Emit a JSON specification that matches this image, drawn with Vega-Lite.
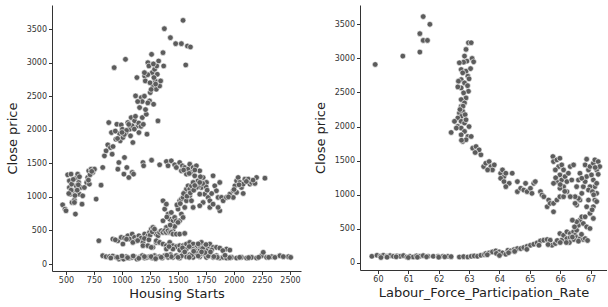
{
  "$schema": "https://vega.github.io/schema/vega-lite/v6.json",
  "padding": {"left": 6, "top": 5, "right": 0, "bottom": 0},
  "background": "white",
  "spacing": 59,
  "bounds": "flush",
  "config": {
    "view": {"stroke": null},
    "font": "DejaVu Sans",
    "axis": {
      "grid": false,
      "format": "d",
      "labelFont": "DejaVu Sans",
      "labelFontSize": 8,
      "labelColor": "#333333",
      "titleFont": "DejaVu Sans",
      "titleFontSize": 13,
      "titleFontWeight": "normal",
      "titleColor": "#222222",
      "domainColor": "#333333",
      "tickColor": "#333333",
      "tickSize": 3.5,
      "labelPadding": 2,
      "domainWidth": 1,
      "tickWidth": 1
    },
    "axisY": {"titlePadding": 7},
    "axisX": {"titlePadding": 3}
  },
  "datasets": {
    "left": [
      {"starts":470,"close":882},{"starts":491,"close":818},{"starts":500,"close":793},{"starts":515,"close":1329},{"starts":530,"close":1239},{"starts":545,"close":1339},{"starts":539,"close":1041},{"starts":554,"close":917},{"starts":575,"close":952},{"starts":584,"close":744},{"starts":590,"close":1165},{"starts":596,"close":1289},{"starts":613,"close":1215},{"starts":619,"close":1041},{"starts":634,"close":1140},{"starts":575,"close":917},{"starts":560,"close":1091},{"starts":530,"close":1140},{"starts":604,"close":1339},{"starts":643,"close":892},{"starts":649,"close":1016},{"starts":664,"close":1140},{"starts":685,"close":1215},{"starts":694,"close":1289},{"starts":703,"close":1388},{"starts":724,"close":1413},{"starts":739,"close":1364},{"starts":754,"close":1413},{"starts":709,"close":1190},{"starts":769,"close":967},{"starts":550,"close":1190},{"starts":565,"close":1260},{"starts":580,"close":1020},{"starts":600,"close":1100},{"starts":620,"close":1300},{"starts":545,"close":1100},{"starts":525,"close":1050},{"starts":610,"close":1180},{"starts":700,"close":1250},{"starts":715,"close":1330},{"starts":730,"close":1380},
      {"starts":813,"close":1175},{"starts":828,"close":1438},{"starts":843,"close":1611},{"starts":858,"close":1686},{"starts":873,"close":1775},{"starts":882,"close":2107},{"starts":897,"close":1735},{"starts":912,"close":1636},{"starts":906,"close":1958},{"starts":930,"close":2925},{"starts":945,"close":1859},{"starts":954,"close":2082},{"starts":963,"close":1413},{"starts":972,"close":1512},{"starts":978,"close":1944},{"starts":984,"close":1835},{"starts":993,"close":2072},{"starts":1003,"close":2008},{"starts":1008,"close":1884},{"starts":1017,"close":1339},{"starts":1022,"close":1587},{"starts":1031,"close":3049},{"starts":1037,"close":1958},{"starts":1043,"close":1438},{"starts":1052,"close":2107},{"starts":1061,"close":1289},{"starts":1067,"close":2008},{"starts":1076,"close":1909},{"starts":1082,"close":2181},{"starts":1091,"close":1364},{"starts":1103,"close":1339},{"starts":1112,"close":2132},{"starts":1097,"close":1810},{"starts":1121,"close":2504},{"starts":1133,"close":2777},{"starts":1142,"close":2057},{"starts":1151,"close":1958},{"starts":1157,"close":2330},{"starts":1163,"close":2429},{"starts":1172,"close":2479},{"starts":1181,"close":2181},{"starts":1187,"close":1512},{"starts":1193,"close":1463},{"starts":1202,"close":2801},{"starts":1208,"close":2727},{"starts":1217,"close":2231},{"starts":1223,"close":1934},{"starts":1231,"close":2999},{"starts":1240,"close":2950},{"starts":1246,"close":2429},{"starts":1252,"close":2553},{"starts":1264,"close":3123},{"starts":1270,"close":2851},{"starts":1276,"close":2652},{"starts":1282,"close":2380},{"starts":1291,"close":2900},{"starts":1297,"close":2727},{"starts":1306,"close":2603},{"starts":1315,"close":2826},{"starts":1321,"close":2132},{"starts":1327,"close":3024},{"starts":1336,"close":2652},{"starts":1345,"close":2727},{"starts":1366,"close":3148},{"starts":1372,"close":2950},{"starts":1378,"close":3505},{"starts":1432,"close":3371},{"starts":1479,"close":3282},{"starts":1530,"close":3282},{"starts":1545,"close":3629},{"starts":1569,"close":2965},{"starts":1584,"close":3247},{"starts":1611,"close":3233},{"starts":1285,"close":2777},{"starts":1260,"close":2600},{"starts":1230,"close":2400},{"starts":1200,"close":2500},{"starts":1180,"close":2420},{"starts":1140,"close":2420},{"starts":1120,"close":2200},{"starts":1090,"close":2060},{"starts":1060,"close":2080},{"starts":1040,"close":1990},{"starts":1020,"close":1930},{"starts":1000,"close":1960},{"starts":960,"close":1870},{"starts":940,"close":1980},{"starts":920,"close":1750},{"starts":1110,"close":2010},{"starts":1150,"close":2100},{"starts":1170,"close":2050},{"starts":1190,"close":2080},{"starts":1210,"close":2300},{"starts":1250,"close":2700},{"starts":1300,"close":2680},{"starts":1310,"close":2950},{"starts":1280,"close":2980},{"starts":1230,"close":2820},{"starts":1200,"close":2850},
      {"starts":1264,"close":1547},{"starts":1336,"close":1478},{"starts":1396,"close":1527},{"starts":1411,"close":1463},{"starts":1440,"close":1537},{"starts":1470,"close":1478},{"starts":1485,"close":1438},{"starts":1515,"close":1512},{"starts":1530,"close":1388},{"starts":1539,"close":1463},{"starts":1560,"close":1438},{"starts":1575,"close":1339},{"starts":1590,"close":1413},{"starts":1605,"close":1487},{"starts":1620,"close":1364},{"starts":1635,"close":1438},{"starts":1649,"close":1314},{"starts":1664,"close":1463},{"starts":1679,"close":1239},{"starts":1694,"close":1388},{"starts":1709,"close":1140},{"starts":1724,"close":1289},{"starts":1739,"close":1041},{"starts":1754,"close":1215},{"starts":1769,"close":992},{"starts":1784,"close":942},{"starts":1813,"close":1314},{"starts":1828,"close":1165},{"starts":1843,"close":1091},{"starts":1858,"close":992},{"starts":1873,"close":1215},{"starts":1888,"close":992},{"starts":1903,"close":942},{"starts":1784,"close":843},{"starts":1813,"close":892},{"starts":1694,"close":1041},{"starts":1724,"close":917},{"starts":1635,"close":843},{"starts":1694,"close":868},{"starts":1873,"close":793},{"starts":1858,"close":843},{"starts":1550,"close":1400},{"starts":1600,"close":1350},{"starts":1650,"close":1400},{"starts":1700,"close":1300},{"starts":1750,"close":1150},{"starts":1800,"close":1050},{"starts":1720,"close":1200},{"starts":1680,"close":1150},{"starts":1760,"close":1100},
      {"starts":1933,"close":992},{"starts":1963,"close":1041},{"starts":1993,"close":1091},{"starts":2008,"close":1165},{"starts":2023,"close":1239},{"starts":2037,"close":1289},{"starts":2052,"close":1215},{"starts":2067,"close":1140},{"starts":2082,"close":1190},{"starts":2097,"close":1264},{"starts":2127,"close":1264},{"starts":2142,"close":1190},{"starts":2157,"close":1215},{"starts":2187,"close":1200},{"starts":2201,"close":1289},{"starts":2276,"close":1279},{"starts":1993,"close":992},{"starts":2023,"close":1066},{"starts":2082,"close":1051},{"starts":1950,"close":1000},{"starts":2000,"close":1110},{"starts":2045,"close":1180},{"starts":2110,"close":1230},{"starts":2170,"close":1250},
      {"starts":1366,"close":942},{"starts":1381,"close":818},{"starts":1396,"close":892},{"starts":1411,"close":744},{"starts":1426,"close":669},{"starts":1440,"close":768},{"starts":1455,"close":644},{"starts":1470,"close":694},{"starts":1485,"close":644},{"starts":1500,"close":818},{"starts":1515,"close":942},{"starts":1530,"close":967},{"starts":1545,"close":992},{"starts":1560,"close":1066},{"starts":1575,"close":1116},{"starts":1590,"close":1165},{"starts":1605,"close":1116},{"starts":1620,"close":1165},{"starts":1635,"close":1215},{"starts":1664,"close":1140},{"starts":1694,"close":1215},{"starts":1455,"close":496},{"starts":1426,"close":496},{"starts":1515,"close":644},{"starts":1530,"close":744},{"starts":1560,"close":843},{"starts":1575,"close":942},{"starts":1605,"close":1016},{"starts":1366,"close":644},{"starts":1396,"close":545},{"starts":1545,"close":694},{"starts":1620,"close":942},{"starts":1490,"close":880},{"starts":1520,"close":900},{"starts":1550,"close":1050},{"starts":1580,"close":1010},{"starts":1610,"close":1060},{"starts":1640,"close":1100},{"starts":1650,"close":1170},{"starts":1470,"close":560},{"starts":1500,"close":620},{"starts":1430,"close":580},{"starts":1400,"close":700},
      {"starts":793,"close":347},{"starts":918,"close":372},{"starts":963,"close":347},{"starts":993,"close":397},{"starts":1022,"close":387},{"starts":1052,"close":421},{"starts":1067,"close":372},{"starts":1091,"close":446},{"starts":1112,"close":397},{"starts":1127,"close":347},{"starts":1151,"close":421},{"starts":1172,"close":387},{"starts":1187,"close":322},{"starts":1202,"close":446},{"starts":1217,"close":387},{"starts":1231,"close":421},{"starts":1246,"close":471},{"starts":1261,"close":521},{"starts":1276,"close":545},{"starts":1291,"close":496},{"starts":1306,"close":446},{"starts":1321,"close":421},{"starts":1336,"close":471},{"starts":1351,"close":496},{"starts":1366,"close":471},{"starts":1381,"close":496},{"starts":1396,"close":471},{"starts":1411,"close":496},{"starts":1426,"close":471},{"starts":1440,"close":471},{"starts":1455,"close":446},{"starts":1485,"close":446},{"starts":1515,"close":446},{"starts":1560,"close":456},{"starts":1008,"close":298},{"starts":1097,"close":322},{"starts":1187,"close":273},{"starts":1276,"close":248},{"starts":1306,"close":322},{"starts":1231,"close":273},{"starts":1261,"close":248},{"starts":940,"close":360},{"starts":1040,"close":370},{"starts":1140,"close":350},{"starts":1200,"close":380},{"starts":1250,"close":430},{"starts":1270,"close":480},{"starts":1290,"close":520},{"starts":1240,"close":360},
      {"starts":1306,"close":347},{"starts":1336,"close":322},{"starts":1366,"close":298},{"starts":1396,"close":273},{"starts":1426,"close":322},{"starts":1455,"close":273},{"starts":1485,"close":258},{"starts":1515,"close":273},{"starts":1545,"close":273},{"starts":1575,"close":298},{"starts":1605,"close":322},{"starts":1635,"close":298},{"starts":1664,"close":248},{"starts":1694,"close":273},{"starts":1709,"close":322},{"starts":1739,"close":273},{"starts":1769,"close":248},{"starts":1784,"close":298},{"starts":1813,"close":248},{"starts":1843,"close":248},{"starts":1873,"close":238},{"starts":1933,"close":223},{"starts":1963,"close":208},{"starts":1396,"close":223},{"starts":1455,"close":223},{"starts":1635,"close":223},{"starts":1694,"close":198},{"starts":1754,"close":198},{"starts":1575,"close":223},{"starts":1515,"close":208},{"starts":1600,"close":260},{"starts":1650,"close":200},{"starts":1720,"close":230},{"starts":1800,"close":210},{"starts":1900,"close":200},{"starts":1420,"close":260},{"starts":1540,"close":240},{"starts":1680,"close":300},{"starts":1750,"close":290},
      {"starts":828,"close":124},{"starts":858,"close":109},{"starts":888,"close":109},{"starts":918,"close":119},{"starts":948,"close":99},{"starts":972,"close":74},{"starts":993,"close":99},{"starts":1014,"close":74},{"starts":1037,"close":109},{"starts":1067,"close":89},{"starts":1091,"close":99},{"starts":1112,"close":109},{"starts":1133,"close":74},{"starts":1157,"close":99},{"starts":1181,"close":124},{"starts":1202,"close":89},{"starts":1223,"close":99},{"starts":1246,"close":109},{"starts":1270,"close":89},{"starts":1291,"close":124},{"starts":1312,"close":99},{"starts":1336,"close":109},{"starts":1360,"close":89},{"starts":1381,"close":124},{"starts":1411,"close":99},{"starts":1432,"close":139},{"starts":1455,"close":99},{"starts":1485,"close":124},{"starts":1515,"close":89},{"starts":1545,"close":149},{"starts":1575,"close":109},{"starts":1605,"close":139},{"starts":1635,"close":99},{"starts":1664,"close":159},{"starts":1694,"close":109},{"starts":1724,"close":149},{"starts":1754,"close":99},{"starts":1784,"close":139},{"starts":1813,"close":99},{"starts":1843,"close":124},{"starts":1873,"close":89},{"starts":1903,"close":99},{"starts":1933,"close":89},{"starts":1978,"close":99},{"starts":2023,"close":89},{"starts":2067,"close":99},{"starts":2112,"close":89},{"starts":2157,"close":99},{"starts":2201,"close":89},{"starts":2246,"close":124},{"starts":2261,"close":174},{"starts":2291,"close":99},{"starts":2336,"close":109},{"starts":2366,"close":99},{"starts":2410,"close":124},{"starts":2485,"close":109},{"starts":2506,"close":99},{"starts":900,"close":90},{"starts":960,"close":100},{"starts":1050,"close":95},{"starts":1150,"close":85},{"starts":1260,"close":110},{"starts":1350,"close":100},{"starts":1440,"close":110},{"starts":1530,"close":120},{"starts":1620,"close":130},{"starts":1700,"close":150},{"starts":1770,"close":120},{"starts":1850,"close":100},{"starts":1960,"close":95},{"starts":2050,"close":100},{"starts":2130,"close":95},{"starts":2220,"close":100},{"starts":2310,"close":100},{"starts":2440,"close":110},{"starts":1000,"close":120},{"starts":1100,"close":120},{"starts":1200,"close":110},{"starts":1300,"close":80},{"starts":1400,"close":130},{"starts":1500,"close":100},{"starts":1600,"close":100},{"starts":1680,"close":120},{"starts":1740,"close":170},{"starts":1820,"close":110},{"starts":1920,"close":130},{"starts":1560,"close":180},{"starts":1640,"close":190},{"starts":1710,"close":180},{"starts":1790,"close":180}
    ],
    "right": [
      {"rate":59.91,"close":2911},{"rate":60.82,"close":3034},{"rate":61.38,"close":3093},{"rate":61.38,"close":3363},{"rate":61.49,"close":3613},{"rate":61.49,"close":3264},{"rate":61.63,"close":3264},{"rate":61.71,"close":3500},
      {"rate":62.98,"close":3230},{"rate":63.07,"close":3230},{"rate":62.90,"close":3132},{"rate":62.85,"close":3034},{"rate":62.93,"close":2960},{"rate":62.82,"close":2945},{"rate":62.68,"close":2936},{"rate":62.74,"close":2837},{"rate":62.90,"close":2813},{"rate":62.79,"close":2788},{"rate":62.96,"close":2739},{"rate":62.74,"close":2690},{"rate":62.65,"close":2666},{"rate":62.85,"close":2641},{"rate":62.98,"close":2518},{"rate":62.74,"close":2567},{"rate":62.63,"close":2582},{"rate":62.82,"close":2494},{"rate":62.90,"close":2420},{"rate":62.74,"close":2396},{"rate":62.85,"close":2347},{"rate":62.74,"close":2297},{"rate":62.79,"close":2224},{"rate":62.68,"close":2199},{"rate":62.74,"close":2150},{"rate":62.87,"close":2175},{"rate":62.63,"close":2126},{"rate":62.52,"close":2077},{"rate":62.74,"close":2077},{"rate":62.85,"close":2052},{"rate":62.63,"close":2003},{"rate":62.74,"close":1978},{"rate":62.58,"close":1978},{"rate":62.85,"close":1929},{"rate":62.41,"close":1914},{"rate":62.74,"close":1880},{"rate":62.96,"close":1855},{"rate":62.79,"close":1782},{"rate":62.90,"close":1807},{"rate":63.07,"close":1855},{"rate":63.12,"close":1684},{"rate":63.23,"close":1708},{"rate":63.28,"close":1635},{"rate":63.39,"close":1586},{"rate":63.33,"close":1659},{"rate":63.48,"close":1414},{"rate":63.55,"close":1463},{"rate":63.66,"close":1487},{"rate":63.72,"close":1414},{"rate":63.77,"close":1365},{"rate":63.83,"close":1438},{"rate":63.61,"close":1365},{"rate":64.04,"close":1316},{"rate":64.10,"close":1365},{"rate":64.15,"close":1267},{"rate":64.21,"close":1316},{"rate":64.04,"close":1242},{"rate":64.15,"close":1193},{"rate":64.32,"close":1168},{"rate":64.21,"close":1119},{"rate":64.42,"close":1316},{"rate":64.59,"close":1193},{"rate":64.59,"close":1046},{"rate":64.70,"close":1095},{"rate":64.80,"close":1070},{"rate":64.86,"close":1168},{"rate":64.91,"close":1046},{"rate":65.02,"close":1095},{"rate":65.13,"close":1168},{"rate":65.18,"close":1193},{"rate":65.07,"close":1021},{"rate":65.35,"close":1046},{"rate":65.40,"close":997},{"rate":65.46,"close":972},{"rate":65.57,"close":825},{"rate":65.62,"close":923},{"rate":65.67,"close":874},{"rate":65.78,"close":874},{"rate":65.78,"close":751},{"rate":65.89,"close":923},{"rate":65.99,"close":972},{"rate":63.0,"close":2700},{"rate":63.05,"close":2850},{"rate":63.1,"close":3000},{"rate":63.15,"close":2950},{"rate":62.95,"close":2600},{"rate":62.8,"close":2300},{"rate":62.9,"close":2100},{"rate":62.7,"close":2250},{"rate":63.0,"close":2000},{"rate":62.75,"close":1800},{"rate":63.2,"close":1620},
      {"rate":65.76,"close":1561},{"rate":65.78,"close":1487},{"rate":65.89,"close":1512},{"rate":65.99,"close":1536},{"rate":65.95,"close":1414},{"rate":65.84,"close":1365},{"rate":66.05,"close":1438},{"rate":66.11,"close":1365},{"rate":65.99,"close":1291},{"rate":65.89,"close":1193},{"rate":66.05,"close":1217},{"rate":65.78,"close":1168},{"rate":66.16,"close":1267},{"rate":66.22,"close":1193},{"rate":66.11,"close":1119},{"rate":65.99,"close":1095},{"rate":66.22,"close":1046},{"rate":66.33,"close":1414},{"rate":66.44,"close":1438},{"rate":66.27,"close":1316},{"rate":66.38,"close":1217},{"rate":66.11,"close":972},{"rate":65.85,"close":1250},{"rate":66.0,"close":1150},{"rate":66.15,"close":1050},
      {"rate":66.65,"close":923},{"rate":66.54,"close":849},{"rate":66.60,"close":947},{"rate":66.71,"close":1021},{"rate":66.49,"close":874},{"rate":66.76,"close":1119},{"rate":66.82,"close":1193},{"rate":66.87,"close":1267},{"rate":66.93,"close":1365},{"rate":66.82,"close":1438},{"rate":66.87,"close":1522},{"rate":66.98,"close":1414},{"rate":67.03,"close":1291},{"rate":67.09,"close":1463},{"rate":67.14,"close":1512},{"rate":67.20,"close":1365},{"rate":67.25,"close":1487},{"rate":67.30,"close":1414},{"rate":67.09,"close":1217},{"rate":67.14,"close":1119},{"rate":67.20,"close":1021},{"rate":67.14,"close":923},{"rate":67.09,"close":825},{"rate":66.98,"close":727},{"rate":67.09,"close":653},{"rate":66.93,"close":923},{"rate":66.98,"close":1119},{"rate":66.60,"close":1217},{"rate":66.54,"close":1119},{"rate":66.65,"close":1316},{"rate":66.71,"close":1242},{"rate":66.93,"close":1070},{"rate":67.20,"close":1168},{"rate":67.06,"close":1046},{"rate":66.87,"close":825},{"rate":66.49,"close":972},{"rate":66.33,"close":972},{"rate":67.25,"close":1300},{"rate":67.15,"close":1400},{"rate":67.1,"close":1000},{"rate":67.2,"close":900},{"rate":67.05,"close":780},
      {"rate":59.80,"close":98},{"rate":59.97,"close":113},{"rate":60.08,"close":98},{"rate":60.18,"close":113},{"rate":60.29,"close":98},{"rate":60.40,"close":108},{"rate":60.51,"close":98},{"rate":60.62,"close":103},{"rate":60.73,"close":98},{"rate":60.84,"close":108},{"rate":60.95,"close":88},{"rate":61.05,"close":98},{"rate":61.16,"close":88},{"rate":61.27,"close":103},{"rate":61.38,"close":98},{"rate":61.49,"close":108},{"rate":61.65,"close":98},{"rate":61.82,"close":98},{"rate":61.98,"close":98},{"rate":62.14,"close":98},{"rate":62.30,"close":98},{"rate":62.41,"close":93},{"rate":62.68,"close":88},{"rate":62.82,"close":93},{"rate":62.96,"close":88},{"rate":63.07,"close":98},{"rate":63.17,"close":103},{"rate":63.28,"close":98},{"rate":63.39,"close":113},{"rate":63.50,"close":123},{"rate":63.55,"close":137},{"rate":63.66,"close":147},{"rate":63.77,"close":162},{"rate":63.88,"close":177},{"rate":63.99,"close":162},{"rate":64.10,"close":147},{"rate":64.21,"close":128},{"rate":64.28,"close":187},{"rate":64.37,"close":177},{"rate":64.48,"close":196},{"rate":64.59,"close":211},{"rate":64.70,"close":211},{"rate":64.80,"close":226},{"rate":64.91,"close":245},{"rate":65.02,"close":260},{"rate":65.13,"close":275},{"rate":65.24,"close":295},{"rate":65.35,"close":324},{"rate":65.46,"close":334},{"rate":65.57,"close":344},{"rate":65.67,"close":334},{"rate":65.73,"close":260},{"rate":65.84,"close":285},{"rate":65.95,"close":309},{"rate":66.05,"close":334},{"rate":65.99,"close":432},{"rate":66.11,"close":407},{"rate":66.22,"close":457},{"rate":66.33,"close":432},{"rate":66.44,"close":457},{"rate":66.49,"close":407},{"rate":66.54,"close":373},{"rate":66.65,"close":358},{"rate":66.76,"close":344},{"rate":66.82,"close":358},{"rate":66.22,"close":358},{"rate":66.33,"close":373},{"rate":66.44,"close":344},{"rate":66.54,"close":481},{"rate":66.60,"close":555},{"rate":66.65,"close":628},{"rate":66.71,"close":677},{"rate":66.54,"close":604},{"rate":66.76,"close":579},{"rate":66.87,"close":530},{"rate":66.98,"close":506},{"rate":66.47,"close":530},{"rate":66.40,"close":628},{"rate":66.82,"close":677},{"rate":60.1,"close":80},{"rate":60.3,"close":85},{"rate":60.6,"close":90},{"rate":61.0,"close":80},{"rate":61.3,"close":85},{"rate":61.6,"close":90},{"rate":62.0,"close":85},{"rate":62.2,"close":90},{"rate":63.6,"close":120},{"rate":63.9,"close":140},{"rate":64.0,"close":110},{"rate":64.3,"close":150},{"rate":64.5,"close":170},{"rate":64.9,"close":200},{"rate":65.3,"close":260},{"rate":65.6,"close":270},{"rate":65.9,"close":330},{"rate":66.0,"close":300},{"rate":66.3,"close":300},{"rate":66.6,"close":320},{"rate":66.9,"close":330},{"rate":66.7,"close":420},{"rate":66.4,"close":380},{"rate":66.2,"close":300}
    ]
  },
  "hconcat": [
    {
      "width": 249,
      "height": 266,
      "data": {"name": "left"},
      "mark": {"type": "point", "filled": true, "fill": "#5c5c5c", "stroke": "white", "strokeWidth": 0.6, "size": 32, "opacity": 1},
      "encoding": {
        "x": {"field": "starts", "type": "quantitative", "title": "Housing Starts",
              "scale": {"domain": [375, 2598], "nice": false, "zero": false},
              "axis": {"values": [500, 750, 1000, 1250, 1500, 1750, 2000, 2250, 2500]}},
        "y": {"field": "close", "type": "quantitative", "title": "Close price",
              "scale": {"domain": [-104, 3858], "nice": false, "zero": false},
              "axis": {"values": [0, 500, 1000, 1500, 2000, 2500, 3000, 3500]}}
      }
    },
    {
      "width": 247,
      "height": 265,
      "data": {"name": "right"},
      "mark": {"type": "point", "filled": true, "fill": "#5c5c5c", "stroke": "white", "strokeWidth": 0.6, "size": 32, "opacity": 1},
      "encoding": {
        "x": {"field": "rate", "type": "quantitative", "title": "Labour_Force_Participation_Rate",
              "scale": {"domain": [59.41, 67.54], "nice": false, "zero": false},
              "axis": {"values": [60, 61, 62, 63, 64, 65, 66, 67]}},
        "y": {"field": "close", "type": "quantitative", "title": "Close price",
              "scale": {"domain": [-103, 3783], "nice": false, "zero": false},
              "axis": {"values": [0, 500, 1000, 1500, 2000, 2500, 3000, 3500]}}
      }
    }
  ]
}
